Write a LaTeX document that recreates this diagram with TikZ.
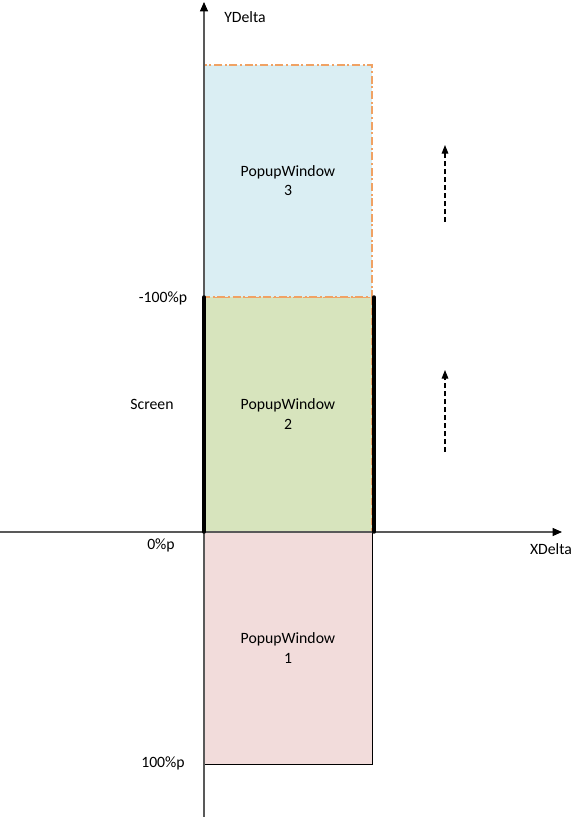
\documentclass[tikz,border=0pt]{standalone}
\usepackage{fontspec}
\setmainfont{Carlito}
\usepackage{xcolor}
\usepackage{tikz}
\usetikzlibrary{arrows.meta}

\definecolor{winblue}{HTML}{DAEEF3}
\definecolor{wingreen}{HTML}{D7E4BD}
\definecolor{winred}{HTML}{F2DCDB}
\definecolor{winedge}{HTML}{F0A264}
\definecolor{axisgray}{HTML}{595959}

\begin{document}
\begin{tikzpicture}[x=0.75pt, y=-0.75pt, every node/.style={font=\fontsize{11.8}{14.3}\selectfont, align=center}]
  \useasboundingbox (0,0) rectangle (582,817);
  % popup windows
  \draw[fill=winred, draw=black, line width=0.75pt] (204,532) rectangle (372,764);
  \draw[fill=wingreen, draw=winedge, line width=0.9pt, dash pattern=on 5pt off 2.5pt] (204,297) rectangle (372,532);
  \draw[fill=winblue, draw=winedge, line width=0.9pt, dash pattern=on 6pt off 2pt on 1.5pt off 2pt] (204,65) rectangle (372,297);
  \node (win3) at (288,181) {PopupWindow\\3};
  \node (win2) at (288,414) {PopupWindow\\2};
  \node (win1) at (288,648) {PopupWindow\\1};
  % axes
  \coordinate (origin) at (204,532);
  \coordinate (ybot) at (204,817);
  \coordinate (ytop) at (204,2);
  \coordinate (xleft) at (0,532);
  \coordinate (xright) at (562,532);
  \draw[axisgray, line width=0.8pt, -{Triangle[length=7pt, width=6pt, color=black]}] (ybot) -- (ytop);
  \draw[axisgray, line width=0.8pt, -{Triangle[length=7pt, width=6pt, color=black]}] (xleft) -- (xright);
  \node (ylabel) at (245,17) {YDelta};
  \node (xlabel) at (551,549) {XDelta};
  % screen edges
  \coordinate (scrTL) at (204,297);
  \coordinate (scrBL) at (204,532);
  \coordinate (scrTR) at (374,297);
  \coordinate (scrBR) at (374,532);
  \draw[line width=2.6pt, line cap=round] (scrTL) -- (scrBL);
  \draw[line width=2.6pt, line cap=round] (scrTR) -- (scrBR);
  \node (screen) at (152,404) {Screen};
  % offsets
  \node (pmin) at (163,298) {-100\%p};
  \node (pzero) at (161,545) {0\%p};
  \node (pmax) at (163,763) {100\%p};
  % move direction
  \coordinate (mv3a) at (445,222);
  \coordinate (mv3b) at (445,145);
  \coordinate (mv2a) at (445,452);
  \coordinate (mv2b) at (445,370);
  \draw[line width=0.8pt, dash pattern=on 3.5pt off 2.5pt, -{Triangle[length=6.5pt, width=5pt]}] (mv3a) -- (mv3b);
  \draw[line width=0.8pt, dash pattern=on 3.5pt off 2.5pt, -{Triangle[length=6.5pt, width=5pt]}] (mv2a) -- (mv2b);
\end{tikzpicture}
\end{document}
